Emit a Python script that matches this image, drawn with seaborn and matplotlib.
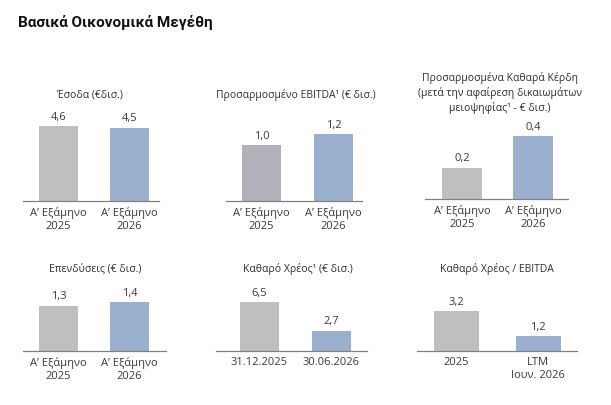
import matplotlib
matplotlib.use("Agg")
import matplotlib.pyplot as plt
import seaborn as sns
import pandas as pd

sns.set_theme(style="white")
plt.rcParams['font.family'] = ['Open Sans', 'DejaVu Sans']

# ---------------- data ----------------
main_title = "Βασικά Οικονομικά Μεγέθη"

panel_titles = [
    "Έσοδα (€δισ.)",
    "Προσαρμοσμένο EBITDA¹ (€ δισ.)",
    "Προσαρμοσμένα Καθαρά Κέρδη\n(μετά την αφαίρεση δικαιωμάτων\nμειοψηφίας¹ - € δισ.)",
    "Επενδύσεις (€ δισ.)",
    "Καθαρό Χρέος¹ (€ δισ.)",
    "Καθαρό Χρέος / EBITDA",
]

half_year_labels = ["Α’ Εξάμηνο\n2025", "Α’ Εξάμηνο\n2026"]
debt_labels = ["31.12.2025", "30.06.2026"]
ratio_labels = ["2025", "LTM\nΙουν. 2026"]

categories = [half_year_labels, half_year_labels, half_year_labels,
              half_year_labels, debt_labels, ratio_labels]

revenue = [4.6, 4.5]
adj_ebitda = [1.0, 1.2]
adj_net_profit = [0.2, 0.4]
capex = [1.3, 1.4]
net_debt = [6.5, 2.7]
net_debt_ebitda = [3.2, 1.2]

series = [revenue, adj_ebitda, adj_net_profit, capex, net_debt, net_debt_ebitda]

# ---------------- styles / layout ----------------
GRAY = "#bfbfbf"
GRAY2 = "#b1b1ba"
BLUE = "#9bb0cf"
palettes = [[GRAY, BLUE], [GRAY2, BLUE], [GRAY, BLUE],
            [GRAY, BLUE], [GRAY, BLUE], [GRAY, BLUE]]

# (axis_left, axis_right, center0, center1, baseline, px_per_unit, bar_px, title_x, title_y)
layout = [
    (23, 159, 58.5, 129.5, 201, 16.3, 39, 90, 95),
    (226, 362, 261.5, 333.5, 201, 55.5, 39, 296, 95),
    (425, 568, 462, 533, 199, 157, 40, 500, 93),
    (23, 166, 58.5, 129.5, 351, 35, 39, 95, 269),
    (216, 367, 259.5, 331, 351, 7.5, 39, 298, 269),
    (417, 577, 456.5, 538, 351, 12.5, 45, 497, 269),
]

W, H, DPI = 611, 405, 100
fig = plt.figure(figsize=(W / DPI, H / DPI), dpi=DPI)
fig.patch.set_facecolor("white")

TEXT = "#3a3a3a"
AX_H = 85  # px

fig.text(18 / W, 1 - 22 / H, main_title, fontsize=11, fontweight="bold",
         color="#111111", va="center", ha="left",
         family=["Roboto", "DejaVu Sans"])

for cats, vals, pal, lay, ttl in zip(categories, series, palettes, layout, panel_titles):
    al, ar, c0, c1, base, ppu, bpx, tx, ty = lay
    sep = c1 - c0
    ax = fig.add_axes([al / W, 1 - base / H, (ar - al) / W, AX_H / H])
    df = pd.DataFrame({"cat": cats, "val": vals})
    sns.barplot(data=df, x="cat", y="val", hue="cat", palette=pal, legend=False,
                width=bpx / sep, ax=ax, saturation=1, edgecolor="none")
    ax.set_xlim(-(c0 - al) / sep, 1 + (ar - c1) / sep)
    ax.set_ylim(0, AX_H / ppu)
    for s in ["top", "right", "left"]:
        ax.spines[s].set_visible(False)
    ax.spines["bottom"].set_color("#808080")
    ax.spines["bottom"].set_linewidth(0.9)
    ax.set_yticks([])
    ax.set_xlabel("")
    ax.set_ylabel("")
    ax.tick_params(axis="x", length=0, pad=4.5, labelsize=8.0, labelcolor=TEXT)
    for lbl in ax.get_xticklabels():
        lbl.set_linespacing(1.25)
    for i, v in enumerate(vals):
        ax.annotate(f"{v:.1f}".replace(".", ","), xy=(i, v), xytext=(0, 2.5),
                    textcoords="offset points", ha="center", va="bottom",
                    fontsize=8.0, color=TEXT)
    fig.text(tx / W, 1 - ty / H, ttl, ha="center", va="center",
             fontsize=7.5, color="#2e2e2e", linespacing=1.35)

fig.savefig("out.png", dpi=DPI, facecolor="white")
